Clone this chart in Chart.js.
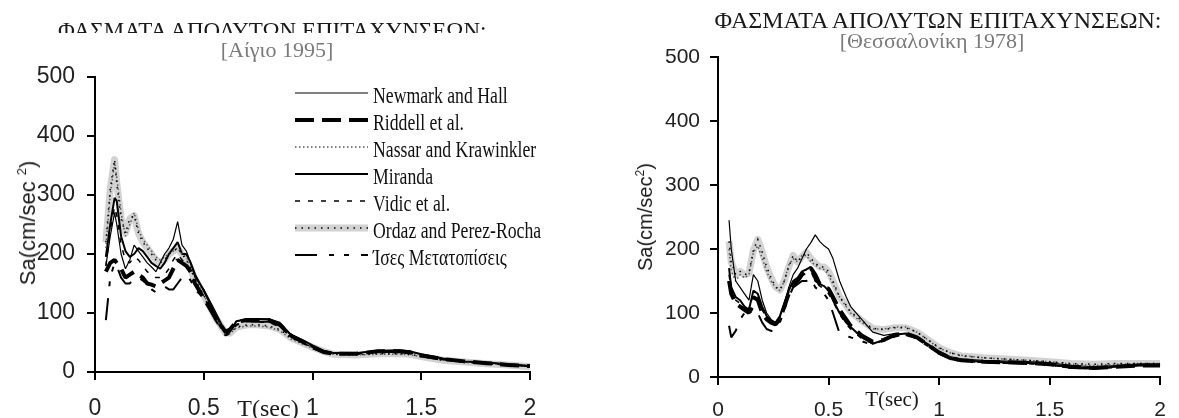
<!DOCTYPE html>
<html>
<head>
<meta charset="utf-8">
<script src="https://cdn.jsdelivr.net/npm/chart.js@4.4.1/dist/chart.umd.min.js"></script>
<style>
  html, body { margin: 0; padding: 0; background: #fff; width: 1179px; height: 418px; overflow: hidden; }
  #page { position: relative; width: 1179px; height: 418px; overflow: hidden; }
  canvas { position: absolute; top: 0; }
  .txt { position: absolute; white-space: nowrap; line-height: 1; color: #1a1a1a; }
  .serif { font-family: "Liberation Serif", "DejaVu Serif", serif; }
  .sans { font-family: "Liberation Sans", Arial, sans-serif; }
  .sub { color: #7a7a7a; }
  .ytitle { transform: translate(-50%, -50%) rotate(-90deg); }
  .sup { font-size: 13px; position: relative; top: -9px; }
  #title-clip { position: absolute; left: 0; top: 0; width: 600px; height: 33px; overflow: hidden; }
</style>
</head>
<body>
<div id="page">
  <canvas id="chart-aigio" width="600" height="440" style="left:0;width:600px;height:440px"></canvas>
  <canvas id="chart-thess" width="579" height="440" style="left:600px;width:579px;height:440px"></canvas>

  <!-- left chart texts -->
  <div id="title-clip">
    <div class="txt serif" style="left:58px;top:19px;font-size:23px">ΦΑΣΜΑΤΑ ΑΠΟΛΥΤΩΝ ΕΠΙΤΑΧΥΝΣΕΩΝ:</div>
  </div>
  <div class="txt serif sub" style="left:277px;top:39px;font-size:22px;transform:translateX(-50%)">[Αίγιο 1995]</div>
  <div class="txt sans ytitle" style="left:28px;top:223px;font-size:22px">Sa(cm/sec <span class="sup">2</span>)</div>
  <div class="txt serif" style="left:268px;top:396px;font-size:24px;transform:translateX(-50%)">T(sec)</div>

  <!-- right chart texts -->
  <div class="txt serif" style="left:938px;top:8px;font-size:24px;transform:translateX(-50%)">ΦΑΣΜΑΤΑ ΑΠΟΛΥΤΩΝ ΕΠΙΤΑΧΥΝΣΕΩΝ:</div>
  <div class="txt serif sub" style="left:932px;top:30px;font-size:22px;transform:translateX(-50%)">[Θεσσαλονίκη 1978]</div>
  <div class="txt sans ytitle" style="left:645px;top:217px;font-size:20px">Sa(cm/sec<span class="sup" style="font-size:12px;top:-8px">2</span>)</div>
  <div class="txt serif" style="left:892px;top:389px;font-size:21px;transform:translateX(-50%)">T(sec)</div>
</div>

<script>
// ---------- Aigio 1995 (left) ----------
const periodsAigio = [0.05, 0.07, 0.09, 0.10, 0.12, 0.14, 0.16, 0.18, 0.20, 0.22, 0.24, 0.26, 0.28, 0.30, 0.32, 0.34, 0.36, 0.38, 0.40, 0.42, 0.44, 0.46, 0.50, 0.55, 0.60, 0.62, 0.65, 0.70, 0.75, 0.80, 0.85, 0.90, 0.95, 1.00, 1.05, 1.10, 1.20, 1.30, 1.40, 1.45, 1.50, 1.60, 1.70, 1.80, 1.90, 2.00];
const newmarkAigio = [180, 230, 270, 250, 200, 175, 190, 215, 205, 195, 185, 178, 170, 185, 200, 210, 225, 255, 215, 205, 185, 160, 140, 105, 68, 70, 86, 90, 90, 90, 84, 64, 55, 45, 36, 32, 32, 36, 36, 34, 30, 22, 18, 16, 13, 10];
const riddellAigio = [170, 185, 190, 185, 175, 160, 165, 170, 165, 160, 150, 148, 145, 150, 155, 160, 175, 190, 185, 180, 170, 150, 125, 95, 68, 72, 85, 88, 88, 88, 80, 62, 52, 42, 34, 31, 31, 35, 35, 33, 28, 22, 18, 15, 12, 10];
const nassarAigio = [210, 300, 355, 330, 270, 230, 250, 270, 240, 225, 215, 205, 195, 190, 195, 200, 205, 210, 200, 195, 180, 160, 130, 95, 65, 65, 75, 78, 78, 76, 70, 56, 48, 40, 34, 30, 29, 30, 30, 29, 26, 20, 16, 14, 12, 9];
const mirandaAigio = [195, 250, 295, 290, 230, 205, 195, 200, 210, 205, 195, 185, 180, 175, 185, 200, 210, 220, 200, 200, 185, 165, 138, 100, 65, 68, 86, 90, 90, 89, 82, 63, 55, 45, 36, 32, 32, 36, 37, 35, 30, 23, 18, 16, 13, 10];
const vidicAigio = [180, 240, 280, 265, 215, 190, 185, 195, 190, 180, 170, 165, 160, 160, 165, 175, 190, 200, 190, 185, 170, 150, 128, 92, 62, 66, 80, 85, 85, 84, 76, 60, 50, 42, 34, 31, 30, 33, 33, 32, 27, 21, 17, 15, 12, 10];
const ordazAigio = [220, 310, 360, 320, 260, 235, 260, 265, 235, 220, 210, 200, 190, 185, 190, 200, 205, 210, 200, 190, 175, 155, 130, 95, 66, 66, 76, 80, 80, 78, 72, 58, 50, 42, 35, 30, 29, 31, 31, 30, 26, 20, 17, 14, 12, 9];
const equalDispAigio = [88, 160, 185, 180, 160, 150, 150, 160, 160, 155, 148, 140, 135, 138, 145, 140, 140, 150, 160, 165, 155, 140, 125, 90, 62, 65, 80, 85, 85, 85, 78, 60, 52, 43, 35, 31, 31, 34, 34, 33, 28, 21, 17, 15, 12, 10];

// ---------- Thessaloniki 1978 (right) ----------
const periodsThess = [0.05, 0.06, 0.08, 0.10, 0.12, 0.14, 0.16, 0.18, 0.20, 0.22, 0.24, 0.26, 0.28, 0.30, 0.32, 0.34, 0.36, 0.38, 0.40, 0.42, 0.44, 0.46, 0.48, 0.50, 0.52, 0.55, 0.58, 0.60, 0.65, 0.70, 0.75, 0.80, 0.85, 0.90, 0.95, 1.00, 1.05, 1.10, 1.20, 1.30, 1.40, 1.50, 1.60, 1.70, 1.80, 1.90, 2.00];
const newmarkThess = [245, 200, 150, 140, 130, 120, 160, 150, 120, 100, 90, 85, 95, 115, 140, 160, 170, 185, 200, 210, 222, 212, 205, 200, 185, 150, 125, 110, 90, 70, 65, 68, 68, 62, 52, 40, 32, 28, 26, 25, 24, 22, 18, 16, 18, 20, 20];
const riddellThess = [150, 130, 115, 110, 105, 100, 125, 120, 100, 90, 85, 82, 90, 110, 130, 145, 150, 160, 165, 170, 160, 145, 140, 138, 125, 105, 90, 80, 65, 55, 58, 66, 68, 62, 50, 38, 30, 26, 24, 23, 22, 20, 16, 14, 16, 18, 18];
const nassarThess = [200, 165, 150, 160, 155, 160, 195, 205, 185, 165, 150, 140, 135, 150, 175, 185, 180, 190, 190, 180, 175, 170, 168, 160, 145, 125, 110, 100, 85, 75, 75, 78, 78, 70, 58, 45, 38, 34, 30, 28, 26, 24, 20, 18, 20, 21, 21];
const mirandaThess = [170, 140, 125, 120, 110, 105, 135, 130, 110, 95, 88, 85, 95, 115, 135, 150, 155, 165, 168, 172, 150, 145, 142, 135, 120, 100, 85, 78, 62, 52, 58, 66, 68, 62, 50, 38, 30, 26, 24, 23, 22, 20, 15, 14, 16, 19, 19];
const vidicThess = [160, 135, 120, 115, 108, 105, 130, 125, 105, 92, 86, 82, 92, 112, 132, 148, 150, 160, 162, 165, 150, 142, 138, 130, 118, 98, 82, 75, 60, 52, 56, 63, 65, 60, 48, 37, 29, 25, 23, 22, 21, 19, 14, 13, 15, 18, 18];
const ordazThess = [212, 180, 160, 165, 160, 162, 198, 215, 195, 172, 155, 141, 136, 150, 172, 190, 180, 188, 195, 185, 178, 172, 172, 165, 150, 125, 112, 102, 88, 76, 74, 77, 77, 70, 58, 46, 38, 33, 30, 28, 26, 24, 21, 20, 21, 21, 21];
const equalDispThess = [80, 62, 72, 90, 100, 95, 110, 100, 85, 75, 72, 73, 85, 105, 125, 140, 145, 150, 150, 155, 140, 135, 130, 120, 100, 68, 64, 62, 56, 50, 58, 64, 66, 60, 48, 36, 28, 25, 23, 22, 21, 19, 14, 13, 16, 18, 18];

// shared axes / legend
const xTickValues = [0, 0.5, 1, 1.5, 2];
const xTickLabels = ['0', '0.5', '1', '1.5', '2'];
const yTickValues = [0, 100, 200, 300, 400, 500];
const seriesNames = ['Newmark and Hall', 'Riddell et al.', 'Nassar and Krawinkler', 'Miranda', 'Vidic et al.', 'Ordaz and Perez-Rocha', 'Ίσες Μετατοπίσεις'];

// line look of each method (same order as seriesNames)
const seriesStyles = [
    { color: '#000', width: 1.2, dash: [] },
    { color: '#000', width: 4, dash: [19, 8] },
    { color: '#555', width: 1.5, dash: [1.5, 2.5] },
    { color: '#000', width: 2, dash: [] },
    { color: '#000', width: 1.5, dash: [5, 8] },
    { color: '#d2d2d2', width: 7, dash: [], dots: true, order: 20 },
    { color: '#000', width: 2, dash: [22, 12, 5, 10, 5, 12] }
];

function buildDatasets(periods, seriesList) {
    const sets = [];
    seriesList.forEach((values, i) => {
        const st = seriesStyles[i];
        const points = periods.map((t, k) => ({ x: t, y: values[k] }));
        sets.push({
            label: seriesNames[i],
            data: points,
            borderColor: st.color,
            borderWidth: st.width,
            borderDash: st.dash,
            borderJoinStyle: st.dots ? 'round' : 'bevel',
            pointRadius: 0,
            tension: 0,
            fill: false,
            order: st.order || 2,
            legendIndex: i,
            dotted: !!st.dots
        });
        // black dots running along the grey band
        if (st.dots) {
            sets.push({
                label: seriesNames[i] + ' dots',
                data: points,
                borderColor: '#000',
                borderWidth: 1.5,
                borderDash: [1.5, 5],
                pointRadius: 0,
                tension: 0,
                fill: false,
                order: 1,
                skipLegend: true
            });
        }
    });
    return sets;
}

// Legend drawn inside the plot, as in the original
const sketchLegend = {
    id: 'sketchLegend',
    afterDatasetsDraw(chart, args, opts) {
        if (!opts.show) return;
        const ctx = chart.ctx;
        chart.data.datasets.forEach(ds => {
            if (ds.skipLegend) return;
            const y = opts.y0 + ds.legendIndex * opts.rowGap;
            ctx.save();
            ctx.strokeStyle = ds.borderColor;
            ctx.lineWidth = ds.borderWidth;
            ctx.setLineDash(ds.borderDash || []);
            ctx.beginPath();
            ctx.moveTo(opts.x0, y);
            ctx.lineTo(opts.x1, y);
            ctx.stroke();
            if (ds.dotted) {
                ctx.strokeStyle = '#000';
                ctx.lineWidth = 1.5;
                ctx.setLineDash([1.5, 5]);
                ctx.beginPath();
                ctx.moveTo(opts.x0, y);
                ctx.lineTo(opts.x1, y);
                ctx.stroke();
            }
            ctx.setLineDash([]);
            ctx.fillStyle = '#111';
            ctx.font = '23px "Liberation Serif"';
            ctx.textBaseline = 'alphabetic';
            ctx.translate(opts.textX, y + 10);
            ctx.scale(0.77, 1);
            ctx.fillText(ds.label, 0, 0);
            ctx.restore();
        });
    }
};

function makeOptions(cfg) {
    return {
        responsive: false,
        animation: false,
        layout: { padding: { left: 0, right: cfg.padRight, top: cfg.padTop, bottom: 0 } },
        plugins: {
            legend: { display: false },
            tooltip: { enabled: false },
            sketchLegend: cfg.legend || { show: false }
        },
        scales: {
            x: {
                type: 'linear',
                min: 0,
                max: 2,
                afterBuildTicks: s => { s.ticks = xTickValues.map(v => ({ value: v })); },
                afterFit: s => { s.height = cfg.xHeight; },
                grid: { display: true, drawOnChartArea: false, drawTicks: true, tickLength: 8, color: '#000', lineWidth: 2 },
                border: { display: true, color: '#000', width: 2 },
                ticks: {
                    color: '#222',
                    font: { family: 'Liberation Sans', size: cfg.tickFont },
                    padding: cfg.xPad,
                    maxRotation: 0,
                    autoSkip: false,
                    callback: value => xTickLabels[xTickValues.indexOf(value)]
                }
            },
            y: {
                type: 'linear',
                min: 0,
                max: 500,
                afterBuildTicks: s => { s.ticks = yTickValues.map(v => ({ value: v })); },
                afterFit: s => { s.width = cfg.yWidth; },
                grid: { display: true, drawOnChartArea: false, drawTicks: true, tickLength: 8, color: '#000', lineWidth: 2 },
                border: { display: true, color: '#000', width: 2 },
                ticks: {
                    color: '#222',
                    font: { family: 'Liberation Sans', size: cfg.tickFont },
                    padding: cfg.yPad
                }
            }
        }
    };
}

new Chart(document.getElementById('chart-aigio').getContext('2d'), {
    type: 'line',
    data: {
        datasets: buildDatasets(periodsAigio, [newmarkAigio, riddellAigio, nassarAigio, mirandaAigio, vidicAigio, ordazAigio, equalDispAigio])
    },
    options: makeOptions({
        padTop: 77, padRight: 70, yWidth: 95, xHeight: 68,
        tickFont: 23, xPad: 15, yPad: 12,
        legend: { show: true, x0: 295, x1: 368, textX: 373, y0: 93, rowGap: 27 }
    }),
    plugins: [sketchLegend]
});

new Chart(document.getElementById('chart-thess').getContext('2d'), {
    type: 'line',
    data: {
        datasets: buildDatasets(periodsThess, [newmarkThess, riddellThess, nassarThess, mirandaThess, vidicThess, ordazThess, equalDispThess])
    },
    options: makeOptions({
        padTop: 57, padRight: 12, yWidth: 118, xHeight: 63,
        tickFont: 21, xPad: 13, yPad: 10
    }),
    plugins: [sketchLegend]
});
</script>
</body>
</html>
